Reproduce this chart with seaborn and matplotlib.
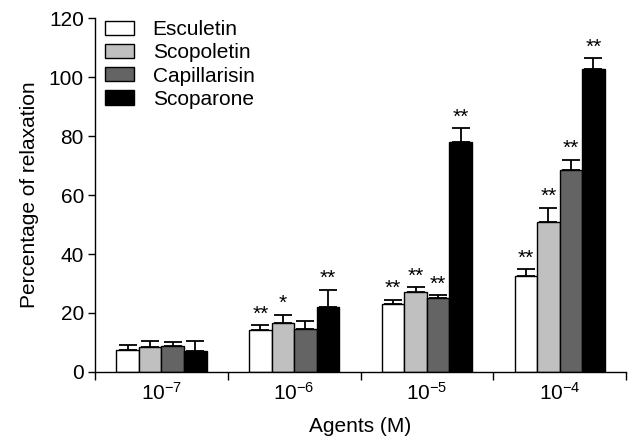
import numpy as np
import pandas as pd
import matplotlib
matplotlib.use("Agg")
import matplotlib.pyplot as plt
import seaborn as sns

concentrations = ["10$^{-7}$", "10$^{-6}$", "10$^{-5}$", "10$^{-4}$"]
agents = ["Esculetin", "Scopoletin", "Capillarisin", "Scoparone"]
esculetin = [7.5, 14.2, 23.2, 32.6]
scopoletin = [8.6, 16.7, 27.0, 50.8]
capillarisin = [8.9, 14.7, 25.0, 68.5]
scoparone = [7.2, 22.0, 78.0, 102.7]
esculetin_err = [1.7, 1.6, 1.2, 2.2]
scopoletin_err = [1.9, 2.7, 1.7, 4.9]
capillarisin_err = [1.4, 2.7, 1.0, 3.4]
scoparone_err = [3.3, 5.8, 4.6, 3.6]
esculetin_sig = ["", "**", "**", "**"]
scopoletin_sig = ["", "*", "**", "**"]
capillarisin_sig = ["", "", "**", "**"]
scoparone_sig = ["", "**", "**", "**"]

values = [esculetin, scopoletin, capillarisin, scoparone]
errors = [esculetin_err, scopoletin_err, capillarisin_err, scoparone_err]
sigs = [esculetin_sig, scopoletin_sig, capillarisin_sig, scoparone_sig]
colors = ["#ffffff", "#c0c0c0", "#646464", "#000000"]

rows = []
for a, vals in zip(agents, values):
    for c, v in zip(concentrations, vals):
        rows.append({"Concentration": c, "Agent": a, "Value": v})
df = pd.DataFrame(rows)

sns.set_theme(style="ticks")
plt.rcParams["font.family"] = ["Liberation Sans", "DejaVu Sans"]
plt.rcParams["mathtext.fontset"] = "custom"
plt.rcParams["mathtext.rm"] = "Liberation Sans"
plt.rcParams["mathtext.it"] = "Liberation Sans"
plt.rcParams["text.color"] = "black"
plt.rcParams["axes.labelcolor"] = "black"
plt.rcParams["xtick.color"] = "black"
plt.rcParams["ytick.color"] = "black"

fig = plt.figure(figsize=(6.31, 4.41), dpi=100)
ax = fig.add_axes([0.1506, 0.1565, 0.8415, 0.8025])

sns.barplot(data=df, x="Concentration", y="Value", hue="Agent",
            order=concentrations, hue_order=agents, palette=colors,
            width=0.68, edgecolor="black", linewidth=1.0, errorbar=None,
            saturation=1, ax=ax)

for cont, err, sig in zip(ax.containers, errors, sigs):
    xs = [p.get_x() + p.get_width() / 2 for p in cont]
    hs = [p.get_height() for p in cont]
    ax.errorbar(xs, hs, yerr=[np.zeros(len(err)), err], fmt="none",
                ecolor="black", elinewidth=1.3, capsize=6.5, capthick=1.3, zorder=1)
    for x, h, e, s in zip(xs, hs, err, sig):
        if s:
            ax.text(x, h + e + 0.6, s, ha="center", va="bottom", fontsize=15,
                    color="black")

ax.set_xlim(-0.5, 3.5)
ax.set_ylim(0, 120)
ax.set_yticks(np.arange(0, 121, 20))
ax.set_xticks(range(4))
ax.set_xticklabels(concentrations, fontsize=15)
ax.tick_params(axis="x", which="major", length=0, pad=7)
ax.set_xticks([-0.5, 0.5, 1.5, 2.5, 3.5], minor=True)
ax.tick_params(axis="x", which="minor", length=6, width=1, direction="out", color="black")
ax.tick_params(axis="y", length=5, width=1, direction="out", labelsize=15, color="black", pad=3)
for s in ["top", "right"]:
    ax.spines[s].set_visible(False)
for s in ["left", "bottom"]:
    ax.spines[s].set_linewidth(1)
    ax.spines[s].set_color("black")
ax.set_xlabel("Agents (M)", fontsize=15, labelpad=10)
ax.set_ylabel("Percentage of relaxation", fontsize=15, labelpad=7)

leg = ax.legend(loc="upper left", bbox_to_anchor=(-0.009, 1.035), frameon=False,
                fontsize=15, handlelength=1.4, handleheight=0.68,
                labelspacing=0.2, handletextpad=0.9, borderaxespad=0.3)
for h in leg.legend_handles:
    h.set_edgecolor("black")
    h.set_linewidth(1.0)

fig.savefig("out.png", dpi=100)
